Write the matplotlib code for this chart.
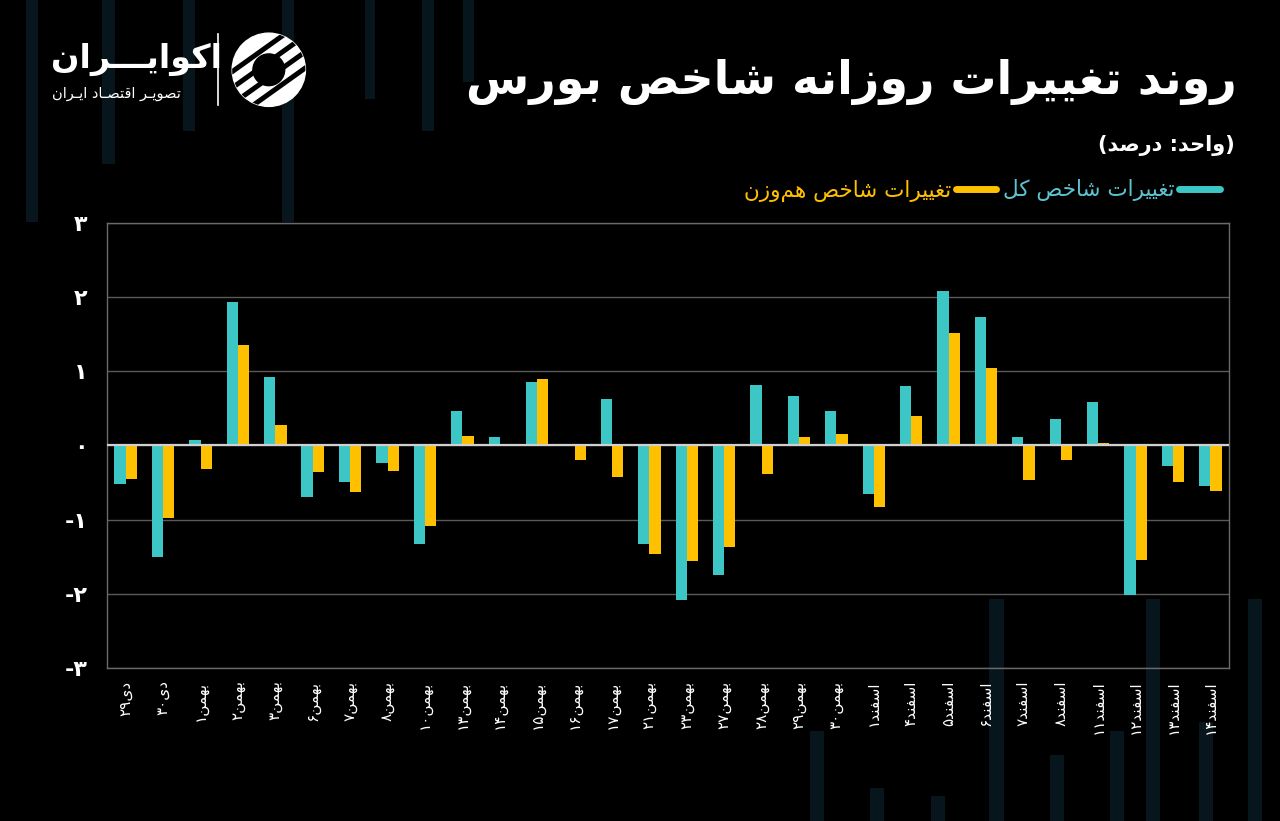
import matplotlib
matplotlib.use("Agg")
import matplotlib.pyplot as plt
import matplotlib.patheffects as pe
from matplotlib.lines import Line2D
from matplotlib.patches import Rectangle, Circle
from matplotlib.font_manager import findfont, FontProperties
from matplotlib.ft2font import FT2Font
import numpy as np

# ---- data ----
months = ["دی"] * 2 + ["بهمن"] * 18 + ["اسفند"] * 10
days = [29, 30, 1, 2, 3, 6, 7, 8, 10, 13, 14, 15, 16, 17, 21, 23, 27, 28, 29, 30,
        1, 4, 5, 6, 7, 8, 11, 12, 13, 14]
total_idx = [-0.52, -1.51, 0.07, 1.93, 0.92, -0.69, -0.49, -0.23, -1.33, 0.46,
             0.12, 0.85, -0.01, 0.62, -1.33, -2.09, -1.75, 0.82, 0.67, 0.47,
             -0.66, 0.80, 2.08, 1.73, 0.11, 0.36, 0.58, -2.01, -0.28, -0.55]
equal_idx = [-0.45, -0.98, -0.32, 1.36, 0.28, -0.36, -0.63, -0.35, -1.08, 0.13,
             0.01, 0.89, -0.19, -0.42, -1.47, -1.56, -1.37, -0.39, 0.11, 0.15,
             -0.83, 0.40, 1.52, 1.05, -0.47, -0.19, 0.03, -1.54, -0.49, -0.61]
y_ticks = [-3, -2, -1, 0, 1, 2, 3]

TITLE = "روند تغییرات روزانه شاخص بورس"
SUBTITLE = "(واحد: درصد)"
LEG_TOTAL = "تغییرات شاخص کل"
LEG_EQUAL = "تغییرات شاخص هم\u200cوزن"

TEAL = "#3cc7c6"
TEAL_TXT = "#5cc3d0"
GOLD = "#ffc000"
BG = "#000000"
STRIPE = "#07161c"

# ---- tiny persian shaper (matplotlib has no bidi / joining) ----
FORMS = {  # isolated, final, initial, medial
    "ا": ("\uFE8D", "\uFE8E", None, None),
    "ب": ("\uFE8F", "\uFE90", "\uFE91", "\uFE92"),
    "ت": ("\uFE95", "\uFE96", "\uFE97", "\uFE98"),
    "ح": ("\uFEA1", "\uFEA2", "\uFEA3", "\uFEA4"),
    "خ": ("\uFEA5", "\uFEA6", "\uFEA7", "\uFEA8"),
    "د": ("\uFEA9", "\uFEAA", None, None),
    "ر": ("\uFEAD", "\uFEAE", None, None),
    "ز": ("\uFEAF", "\uFEB0", None, None),
    "س": ("\uFEB1", "\uFEB2", "\uFEB3", "\uFEB4"),
    "ش": ("\uFEB5", "\uFEB6", "\uFEB7", "\uFEB8"),
    "ص": ("\uFEB9", "\uFEBA", "\uFEBB", "\uFEBC"),
    "غ": ("\uFECD", "\uFECE", "\uFECF", "\uFED0"),
    "ف": ("\uFED1", "\uFED2", "\uFED3", "\uFED4"),
    "ق": ("\uFED5", "\uFED6", "\uFED7", "\uFED8"),
    "ل": ("\uFEDD", "\uFEDE", "\uFEDF", "\uFEE0"),
    "م": ("\uFEE1", "\uFEE2", "\uFEE3", "\uFEE4"),
    "ن": ("\uFEE5", "\uFEE6", "\uFEE7", "\uFEE8"),
    "ه": ("\uFEE9", "\uFEEA", "\uFEEB", "\uFEEC"),
    "و": ("\uFEED", "\uFEEE", None, None),
    "ی": ("\uFBFC", "\uFBFD", "\uFBFE", "\uFBFF"),
    "ک": ("\uFB8E", "\uFB8F", "\uFB90", "\uFB91"),
    "ـ": ("\u0640", "\u0640", "\u0640", "\u0640"),
}
FA_DIGITS = str.maketrans("0123456789", "۰۱۲۳۴۵۶۷۸۹")


def _has_glyphs(weight):
    try:
        f = FT2Font(findfont(FontProperties(family="DejaVu Sans", weight=weight)))
        cm = f.get_charmap()
        return all(ord(c) in cm for c in "\uFE8D\uFBFC\uFB8E\u06F1")
    except Exception:
        return False


if not _has_glyphs("normal"):
    # fall back to arabic-yeh / kaf forms
    FORMS["ی"] = ("\uFEEF", "\uFEF0", "\uFEF3", "\uFEF4")
    FORMS["ک"] = ("\uFED9", "\uFEDA", "\uFEDB", "\uFEDC")
BOLD_OK = _has_glyphs("bold")


def shape(word):
    out = []
    for i, c in enumerate(word):
        if c not in FORMS:
            if c != "\u200c":
                out.append(c)
            continue
        prev = word[i - 1] if i > 0 else None
        nxt = word[i + 1] if i + 1 < len(word) else None
        jp = prev in FORMS and FORMS[prev][2] is not None
        jn = FORMS[c][2] is not None and nxt in FORMS
        iso, fin, ini, med = FORMS[c]
        out.append(med if jp and jn else fin if jp else ini if jn else iso)
    return "".join(out)


def fa(text):
    s = shape(text.translate(FA_DIGITS))
    runs, cur, cur_l = [], "", None
    for c in s:
        is_l = c.isdigit() or c.isascii() and c.isalpha()
        if cur and is_l != cur_l:
            runs.append((cur, cur_l))
            cur = ""
        cur += c
        cur_l = is_l
    if cur:
        runs.append((cur, cur_l))
    mirror = str.maketrans("()", ")(")
    out = ""
    for r, is_l in reversed(runs):
        out += r if is_l else r[::-1].translate(mirror)
    return out


plt.rcParams.update({
    "font.family": ["DejaVu Sans"],
    "figure.facecolor": BG,
    "axes.facecolor": BG,
})

fig = plt.figure(figsize=(12.8, 8.21), dpi=100)

# faint background stripes (decoration)
stripes = [(0.020, 0.73, 0.010), (0.080, 0.80, 0.010), (0.143, 0.84, 0.009),
           (0.220, 0.73, 0.010), (0.285, 0.88, 0.008), (0.330, 0.84, 0.009),
           (0.362, 0.90, 0.008)]
for x, y0, w in stripes:
    fig.add_artist(Rectangle((x, y0), w, 1 - y0, transform=fig.transFigure,
                             color=STRIPE, zorder=-5, lw=0))
stripes_b = [(0.633, 0.11), (0.680, 0.04), (0.727, 0.03), (0.773, 0.27), (0.820, 0.08),
             (0.867, 0.11), (0.895, 0.27), (0.937, 0.12), (0.975, 0.27)]
for x, h in stripes_b:
    fig.add_artist(Rectangle((x, 0), 0.011, h, transform=fig.transFigure,
                             color=STRIPE, zorder=-5, lw=0))

ax = fig.add_axes([0.0836, 0.1864, 0.8766, 0.542])
ax.set_facecolor("none")
x = np.arange(len(days))
w = 0.3
ax.bar(x - w / 2, total_idx, w, color=TEAL, zorder=3)
ax.bar(x + w / 2, equal_idx, w, color=GOLD, zorder=3)

ax.set_xlim(-0.5, len(days) - 0.5)
ax.set_ylim(-3, 3)
ax.set_yticks(y_ticks)
ax.set_yticklabels([("-" if v < 0 else "") + str(abs(v)).translate(FA_DIGITS) for v in y_ticks],
                   color="white", fontsize=16, fontweight="bold")
ax.set_xticks(x)
ax.set_xticklabels([fa(f"{m}{d}") for m, d in zip(months, days)],
                   rotation=90, color="white", fontsize=11, va="top", ha="center")
ax.tick_params(axis="both", length=0)
ax.tick_params(axis="y", pad=14)
ax.tick_params(axis="x", pad=9)
ax.grid(axis="y", color="#5a5a5a", lw=1, zorder=0)
ax.axhline(0, color="#d0d0d0", lw=1.6, zorder=4)
for s in ax.spines.values():
    s.set_color("#6a6a6a")
    s.set_linewidth(1)

# title block
title_kw = dict(fontweight="bold") if BOLD_OK else dict(
    path_effects=[pe.withStroke(linewidth=2.5, foreground="white")])
fig.text(0.966, 0.900, fa(TITLE), ha="right", va="center", color="white",
         fontsize=33, **title_kw)
fig.text(0.965, 0.823, fa(SUBTITLE), ha="right", va="center", color="white",
         fontsize=15, **({"fontweight": "bold"} if BOLD_OK else {}))

handles = [Line2D([], [], color=GOLD, lw=5, solid_capstyle="round"),
           Line2D([], [], color=TEAL, lw=5, solid_capstyle="round")]
leg = ax.legend(handles, [fa(LEG_EQUAL), fa(LEG_TOTAL)], ncol=2, markerfirst=False,
                loc="center right", bbox_to_anchor=(0.968, 0.768),
                bbox_transform=fig.transFigure, frameon=False, fontsize=15.5,
                handlelength=1.9, handletextpad=0.2, columnspacing=0.3)
for t, c in zip(leg.get_texts(), [GOLD, TEAL_TXT]):
    t.set_color(c)

# logo
fig.text(0.040, 0.928, fa("اکوایـــران"), ha="left", va="center", color="white",
         fontsize=24, **title_kw)
fig.text(0.041, 0.886, fa("تصویـر اقتصـاد ایـران"), ha="left", va="center",
         color="white", fontsize=10.5)
fig.add_artist(Line2D([0.170, 0.170], [0.872, 0.958], transform=fig.transFigure,
                      color="white", lw=1.2))
lax = fig.add_axes([0.180, 0.869, 0.06, 0.092])
lax.set_xlim(-1, 1)
lax.set_ylim(-1, 1)
lax.set_aspect("equal")
lax.axis("off")
disc = Circle((0, 0), 0.97, color="white")
lax.add_patch(disc)
for off in (-0.9, -0.3, 0.3, 0.9):
    ln, = lax.plot([-1.4 + off, 1.4 + off], [-1.0, 1.0], color=BG, lw=3.6,
                   solid_capstyle="butt")
    ln.set_clip_path(disc)
lax.add_patch(Circle((0, 0), 0.42, color=BG))

fig.savefig("out.png", dpi=100, facecolor=BG)
